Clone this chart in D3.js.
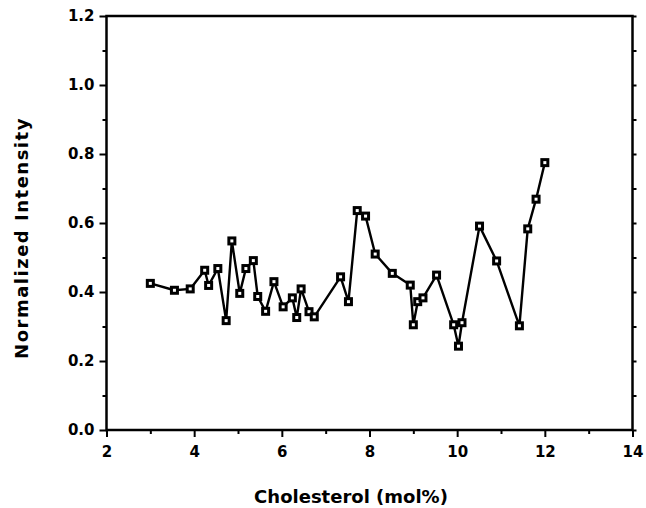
<!DOCTYPE html>
<html>
<head>
<meta charset="utf-8">
<script src="https://cdn.jsdelivr.net/npm/d3@7"></script>
<style>
body { margin: 0; background: #fff; }
text { font-family: "DejaVu Sans", sans-serif; font-weight: bold; fill: #000; }
</style>
</head>
<body>
<svg width="646" height="508"></svg>
<script>
// cholesterol content (mol%) and normalized intensity
var cholesterol = [3.0, 3.55, 3.91, 4.24, 4.33, 4.54, 4.73, 4.86, 5.04, 5.18,
	5.35, 5.45, 5.63, 5.82, 6.03, 6.24, 6.34, 6.44, 6.62, 6.74,
	7.34, 7.52, 7.72, 7.91, 8.13, 8.52, 8.93, 9.0, 9.1, 9.22,
	9.53, 9.92, 10.03, 10.11, 10.51, 10.9, 11.42, 11.61, 11.8, 12.0];
var intensity = [0.425, 0.405, 0.409, 0.463, 0.419, 0.468, 0.317, 0.548, 0.396, 0.468,
	0.491, 0.387, 0.344, 0.43, 0.357, 0.383, 0.326, 0.409, 0.343, 0.328,
	0.444, 0.372, 0.636, 0.620, 0.510, 0.454, 0.420, 0.305, 0.372, 0.383,
	0.449, 0.305, 0.243, 0.311, 0.591, 0.490, 0.302, 0.583, 0.669, 0.775];
var xTicks = [2, 4, 6, 8, 10, 12, 14];
var xMinor = [3, 5, 7, 9, 11, 13];
var yTicks = [0, 0.2, 0.4, 0.6, 0.8, 1.0, 1.2];
var yMinor = [0.1, 0.3, 0.5, 0.7, 0.9, 1.1];

var data = cholesterol.map(function(c, i){ return {x: c, y: intensity[i]}; });

var svg = d3.select('svg'),
	pLeft = 106.5, pRight = 632.5, pTop = 16, pBottom = 430;

var x = d3.scaleLinear().domain([2, 14]).range([pLeft, pRight]);
var y = d3.scaleLinear().domain([0, 1.2]).range([pBottom, pTop]);

function style(g) {
	g.select('.domain').remove();
	g.selectAll('.tick line').attr('stroke', '#000').attr('stroke-width', 2);
	g.selectAll('.tick text').style('font-size', '15px').style('font-family', null);
}

// minor ticks first
svg.append('g').attr('transform', 'translate(' + pLeft + ',0)')
	.call(d3.axisLeft(y).tickValues(yMinor).tickSize(4).tickFormat(''))
	.call(style);
svg.append('g').attr('transform', 'translate(0,' + pBottom + ')')
	.call(d3.axisBottom(x).tickValues(xMinor).tickSize(4).tickFormat(''))
	.call(style);
svg.append('g').attr('transform', 'translate(' + pRight + ',0)')
	.call(d3.axisLeft(y).tickValues(yMinor.concat(yTicks)).tickSize(-4).tickFormat(''))
	.call(style);

svg.append('g').attr('transform', 'translate(' + pLeft + ',0)')
	.call(d3.axisLeft(y).tickValues(yTicks).tickSize(7).tickPadding(5).tickFormat(d3.format('.1f')))
	.call(style);
svg.append('g').attr('transform', 'translate(0,' + pBottom + ')')
	.call(d3.axisBottom(x).tickValues(xTicks).tickSize(7).tickPadding(9).tickFormat(d3.format('d')))
	.call(style);

// frame
svg.append('rect')
	.attr('x', pLeft).attr('y', pTop)
	.attr('width', pRight - pLeft).attr('height', pBottom - pTop)
	.attr('fill', 'none').attr('stroke', '#000').attr('stroke-width', 2.5);

var line = d3.line()
	.x(function(d){ return x(d.x); })
	.y(function(d){ return y(d.y); });

svg.append('path')
	.datum(data)
	.attr('d', line)
	.attr('fill', 'none')
	.attr('stroke', '#000')
	.attr('stroke-width', 2.4)
	.attr('stroke-linejoin', 'round');

svg.selectAll('.pt')
	.data(data)
	.enter().append('rect')
	.attr('class', 'pt')
	.attr('x', function(d){ return x(d.x) - 3; })
	.attr('y', function(d){ return y(d.y) - 3; })
	.attr('width', 6)
	.attr('height', 6)
	.attr('fill', '#fff')
	.attr('stroke', '#000')
	.attr('stroke-width', 3);

svg.append('text')
	.attr('x', 351)
	.attr('y', 503)
	.attr('text-anchor', 'middle')
	.style('font-size', '18px')
	.text('Cholesterol  (mol%)');

svg.append('text')
	.attr('transform', 'translate(28,238) rotate(-90)')
	.attr('text-anchor', 'middle')
	.style('font-size', '18px')
	.style('letter-spacing', '1.5px')
	.text('Normalized Intensity');
</script>
</body>
</html>
